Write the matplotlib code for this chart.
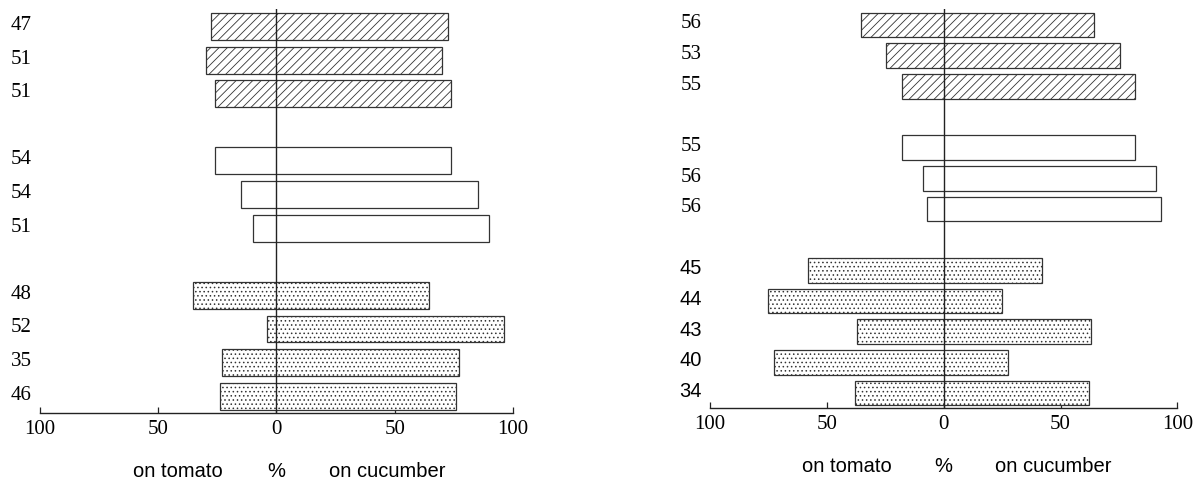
import matplotlib
matplotlib.use("Agg")
import matplotlib.pyplot as plt
from matplotlib.transforms import ScaledTranslation
import numpy as np

# Left panel: three groups of strains (hatched, open, dotted)
labels_left = ["47", "51", "51", "54", "54", "51", "48", "52", "35", "46"]
tomato_left = [27.5, 30, 26, 26, 15, 10, 35.5, 4, 23, 24]
cucumber_left = [72.5, 70, 74, 74, 85, 90, 64.5, 96, 77, 76]
groups_left = [3, 3, 4]

# Right panel
labels_right = ["56", "53", "55", "55", "56", "56", "45", "44", "43", "40", "34"]
tomato_right = [35.5, 24.5, 18, 18, 9, 7, 58, 75, 37, 72.5, 38]
cucumber_right = [64.5, 75.5, 82, 82, 91, 93, 42, 25, 63, 27.5, 62]
groups_right = [3, 3, 5]

x_ticks = [-100, -50, 0, 50, 100]
x_ticklabels = ["100", "50", "0", "50", "100"]

plt.rcParams["hatch.linewidth"] = 0.6
plt.rcParams["hatch.color"] = "#3a3a3a"

EDGE = "#333333"
SERIF = "Liberation Serif"
SANS = "Liberation Sans"
group_hatches = ["////", None, "...."]

fig = plt.figure(figsize=(11.98, 4.79), dpi=100)
ax_l = fig.add_axes([0.0334, 0.1378, 0.3948, 0.8434])
ax_r = fig.add_axes([0.5927, 0.1476, 0.3901, 0.8336])


def slot_positions(groups):
    pos, start = [], 0
    for g in groups:
        pos.extend(range(start, start + g))
        start += g + 1
    return np.array(pos, dtype=float), start - 1


def draw_panel(ax, labels, tomato, cucumber, groups, label_fonts):
    ypos, nslots = slot_positions(groups)
    tomato = np.asarray(tomato, dtype=float)
    cucumber = np.asarray(cucumber, dtype=float)
    i = 0
    for g, h in zip(groups, group_hatches):
        sl = slice(i, i + g)
        ax.barh(ypos[sl], tomato[sl] + cucumber[sl], left=-tomato[sl],
                height=0.8, color="white", edgecolor=EDGE, linewidth=0.9,
                hatch=h, zorder=2)
        i += g
    ax.axvline(0, color="#222222", linewidth=1.0, zorder=3)
    ax.set_xlim(-100, 100)
    ax.set_ylim(nslots - 0.5, -0.52)

    for s in ("top", "right", "left"):
        ax.spines[s].set_visible(False)
    ax.spines["bottom"].set_color("#222222")
    ax.spines["bottom"].set_linewidth(1.0)

    ax.set_xticks(x_ticks)
    ax.set_xticklabels(x_ticklabels, fontfamily=SERIF, fontsize=15)
    ax.tick_params(axis="x", direction="in", length=4, width=0.9,
                   color="#222222", pad=5)

    ax.set_yticks(ypos)
    ax.set_yticklabels(labels)
    ax.tick_params(axis="y", length=0, pad=6)
    shift = ScaledTranslation(0, 2.5 / 72, fig.dpi_scale_trans)
    for lbl, fam in zip(ax.get_yticklabels(), label_fonts):
        lbl.set_fontfamily(fam)
        lbl.set_fontsize(15 if fam == SERIF else 14.5)
        lbl.set_horizontalalignment("right")
        lbl.set_transform(lbl.get_transform() + shift)

    for x, txt in ((-41.6, "on tomato"), (0, "%"), (47, "on cucumber")):
        ax.annotate(txt, xy=(x, 0), xycoords=("data", "axes fraction"),
                    xytext=(0, -42), textcoords="offset points",
                    ha="center", va="center", fontfamily=SANS, fontsize=14.5,
                    annotation_clip=False)


draw_panel(ax_l, labels_left, tomato_left, cucumber_left, groups_left,
           [SERIF] * len(labels_left))
draw_panel(ax_r, labels_right, tomato_right, cucumber_right, groups_right,
           [SERIF] * 6 + [SANS] * 5)

fig.savefig("out.png", dpi=100)
